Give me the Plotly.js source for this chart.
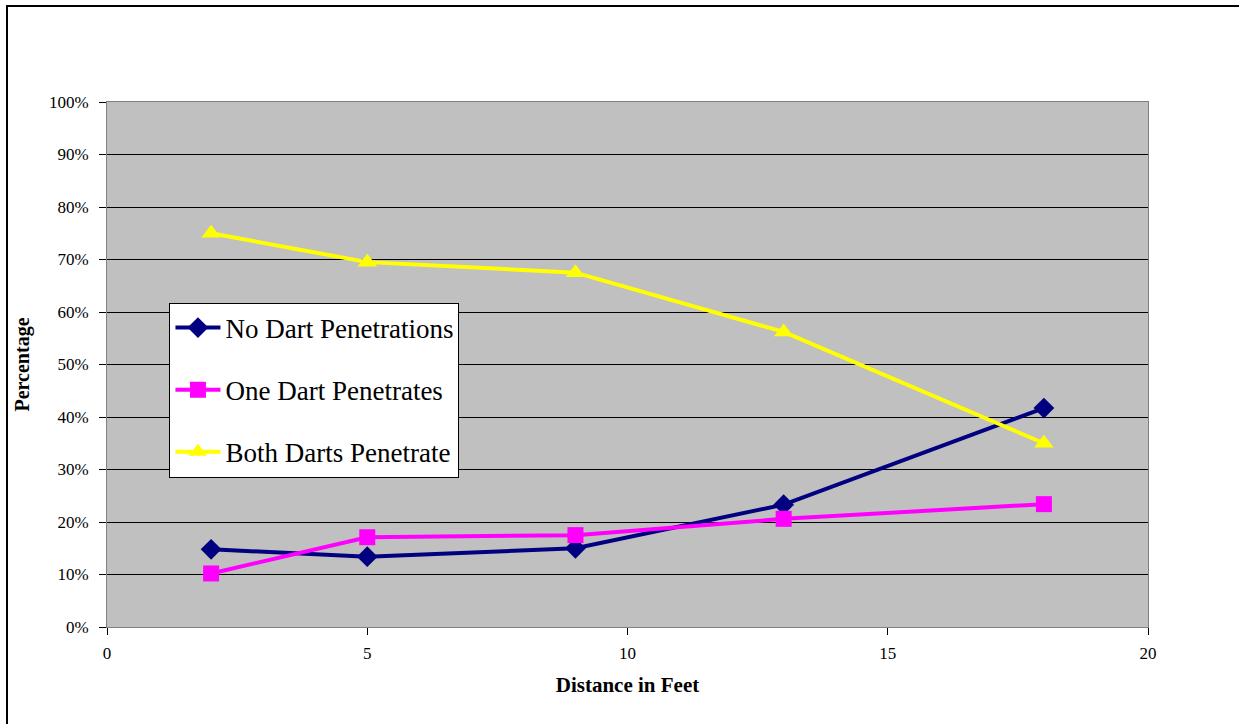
<!DOCTYPE html>
<html>
<head>
<meta charset="utf-8">
<script src="https://cdn.plot.ly/plotly-3.0.1.min.js"></script>
<style>
  html, body { margin: 0; padding: 0; background: #ffffff; }
  #frame { position: absolute; left: 6px; top: 5px; width: 1300px; height: 800px; border-left: 2px solid #000; border-top: 2px solid #000; }
  #chart { position: absolute; left: 0; top: 0; width: 1239px; height: 724px; }
</style>
</head>
<body>
<div id="frame"></div>
<div id="chart"></div>
<script>
// Distances (feet) at which the dart pairs were fired
const distances = [2, 5, 9, 13, 18];

// Share of outcomes at each distance (percent)
const noDartPenetrations = [14.8, 13.4, 15.0, 23.3, 41.7];
const oneDartPenetrates = [10.2, 17.1, 17.5, 20.6, 23.4];
const bothDartsPenetrate = [75.0, 69.5, 67.5, 56.2, 35.0];

const seriesNames = ['No Dart Penetrations', 'One Dart Penetrates', 'Both Darts Penetrate'];

const yTickValues = [0, 10, 20, 30, 40, 50, 60, 70, 80, 90, 100];
const yTickLabels = ['0%', '10%', '20%', '30%', '40%', '50%', '60%', '70%', '80%', '90%', '100%'];
const xTickValues = [0, 5, 10, 15, 20];

const serif = '"Times New Roman", "Liberation Serif", serif';

const traces = [
  {
    x: distances, y: noDartPenetrations, name: seriesNames[0], legendgroup: 'a',
    mode: 'lines+markers', type: 'scatter',
    line: { color: '#000080', width: 4 },
    marker: { symbol: 'diamond', size: 16, color: '#000080' }
  },
  {
    x: distances, y: oneDartPenetrates, name: seriesNames[1], legendgroup: 'b',
    mode: 'lines+markers', type: 'scatter',
    line: { color: '#FF00FF', width: 4 },
    marker: { symbol: 'square', size: 16, color: '#FF00FF' }
  },
  {
    x: distances, y: bothDartsPenetrate, name: seriesNames[2], legendgroup: 'c',
    mode: 'lines+markers', type: 'scatter',
    line: { color: '#FFFF00', width: 4 },
    marker: { symbol: 'triangle-up', size: 17, color: '#FFFF00' }
  }
];

const layout = {
  width: 1239, height: 724,
  margin: { l: 107, r: 91, t: 102, b: 97 },
  paper_bgcolor: 'rgba(0,0,0,0)',
  plot_bgcolor: '#C0C0C0',
  font: { family: serif, color: '#000000' },
  showlegend: true,
  legend: {
    x: 0.06, y: 0.618, xanchor: 'left', yanchor: 'top',
    bgcolor: '#FFFFFF', bordercolor: '#000000', borderwidth: 1,
    font: { family: serif, size: 27, color: '#000000' },
    traceorder: 'grouped', tracegroupgap: 24, itemwidth: 45
  },
  xaxis: {
    range: [0, 20], tickvals: xTickValues, ticktext: xTickValues.map(String),
    ticks: 'outside', ticklen: 7, tickcolor: '#000000',
    ticklabelstandoff: 4,
    showgrid: false, zeroline: false,
    showline: true, linecolor: '#808080', linewidth: 1, mirror: true,
    tickfont: { family: serif, size: 17 },
    title: { text: '<b>Distance in Feet</b>', font: { family: serif, size: 21 }, standoff: 14 }
  },
  yaxis: {
    range: [0, 100], tickvals: yTickValues, ticktext: yTickLabels,
    ticks: 'outside', ticklen: 7, tickcolor: '#000000',
    ticklabelstandoff: 7,
    showgrid: true, gridcolor: '#000000', gridwidth: 1, zeroline: false,
    showline: true, linecolor: '#808080', linewidth: 1, mirror: true,
    tickfont: { family: serif, size: 17 },
    title: { text: '<b>Percentage</b>', font: { family: serif, size: 20 }, standoff: 13 }
  }
};

Plotly.newPlot('chart', traces, layout, { staticPlot: true, displayModeBar: false });
</script>
</body>
</html>
